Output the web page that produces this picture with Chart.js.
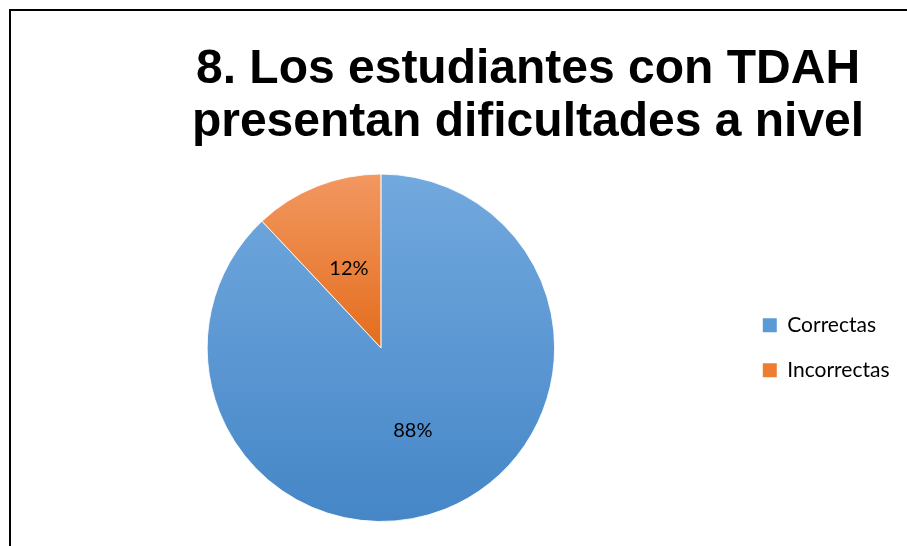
<!DOCTYPE html>
<html>
<head>
<meta charset="utf-8">
<script src="https://cdn.jsdelivr.net/npm/chart.js@4.4.1/dist/chart.umd.min.js"></script>
<style>
  html, body { margin: 0; padding: 0; background: #fff; overflow: hidden; }
  #wrap { position: relative; width: 907px; height: 546px; overflow: hidden; }
  #frame { position: absolute; left: 9px; top: 9px; width: 1200px; height: 1200px; border: 2px solid #000; box-sizing: border-box; }
  #c { position: absolute; left: 0; top: 0; }
</style>
</head>
<body>
<div id="wrap">
  <div id="frame"></div>
  <canvas id="c" width="907" height="546"></canvas>
</div>
<script>
// ---- data ----
const categories = ['Correctas', 'Incorrectas'];
const values = [88, 12];
const titleLines = ['8. Los estudiantes con TDAH', 'presentan dificultades a nivel'];

// ---- styles ----
const flatColors = ['#5b9bd5', '#ed7d31'];
const gradStops = [['#72a9de', '#4586c7'], ['#f29861', '#e46d1d']];

function sliceFill(ctx) {
  const chart = ctx.chart;
  const a = chart.chartArea;
  const i = ctx.dataIndex;
  if (!a) return flatColors[i];
  const cy = (a.top + a.bottom) / 2;
  const r = Math.min(a.right - a.left, a.bottom - a.top) / 2;
  const y0 = cy - r;
  const y1 = i === 0 ? cy + r : cy;
  const g = chart.ctx.createLinearGradient(0, y0, 0, y1);
  g.addColorStop(0, gradStops[i][0]);
  g.addColorStop(1, gradStops[i][1]);
  return g;
}

const titleShift = {
  id: 'titleShift',
  afterLayout(chart) {
    const t = chart.titleBlock;
    if (!t) return;
    const dx = 528 - (t.left + t.right) / 2;
    t.left += dx; t.right += dx;
  }
};

const sliceLabels = {
  id: 'sliceLabels',
  afterDatasetsDraw(chart) {
    const ctx = chart.ctx;
    const meta = chart.getDatasetMeta(0);
    ctx.save();
    ctx.font = '20px Lato';
    ctx.fillStyle = '#000';
    ctx.textAlign = 'center';
    ctx.textBaseline = 'middle';
    meta.data.forEach((arc, i) => {
      const p = arc.getProps(['x', 'y', 'startAngle', 'endAngle', 'outerRadius'], true);
      const mid = (p.startAngle + p.endAngle) / 2;
      const rr = p.outerRadius * 0.5;
      ctx.fillText(values[i] + '%', p.x + Math.cos(mid) * rr, p.y + Math.sin(mid) * rr + 2);
    });
    ctx.restore();
  }
};

new Chart(document.getElementById('c'), {
  type: 'pie',
  data: {
    labels: categories,
    datasets: [{
      data: values,
      backgroundColor: sliceFill,
      borderColor: 'rgba(255,255,255,0.85)',
      borderWidth: 1,
      hoverOffset: 0
    }]
  },
  options: {
    responsive: false,
    animation: false,
    events: [],
    layout: { padding: { top: 0, left: 23, right: 7.5, bottom: 24 } },
    plugins: {
      tooltip: { enabled: false },
      title: {
        display: true,
        text: titleLines,
        color: '#000',
        font: { family: '"Liberation Sans", Arial, sans-serif', size: 48, weight: 'bold', lineHeight: 1.11 },
        padding: { top: 43, bottom: 24 }
      },
      legend: {
        position: 'right',
        fullSize: false,
        labels: {
          boxWidth: 14,
          boxHeight: 14,
          padding: 24,
          color: '#000',
          font: { family: 'Lato', size: 21 },
          generateLabels(chart) {
            return chart.data.labels.map((l, i) => ({
              text: l,
              fillStyle: flatColors[i],
              strokeStyle: flatColors[i],
              lineWidth: 0,
              hidden: false,
              index: i
            }));
          }
        }
      }
    }
  },
  plugins: [titleShift, sliceLabels]
});
</script>
</body>
</html>
